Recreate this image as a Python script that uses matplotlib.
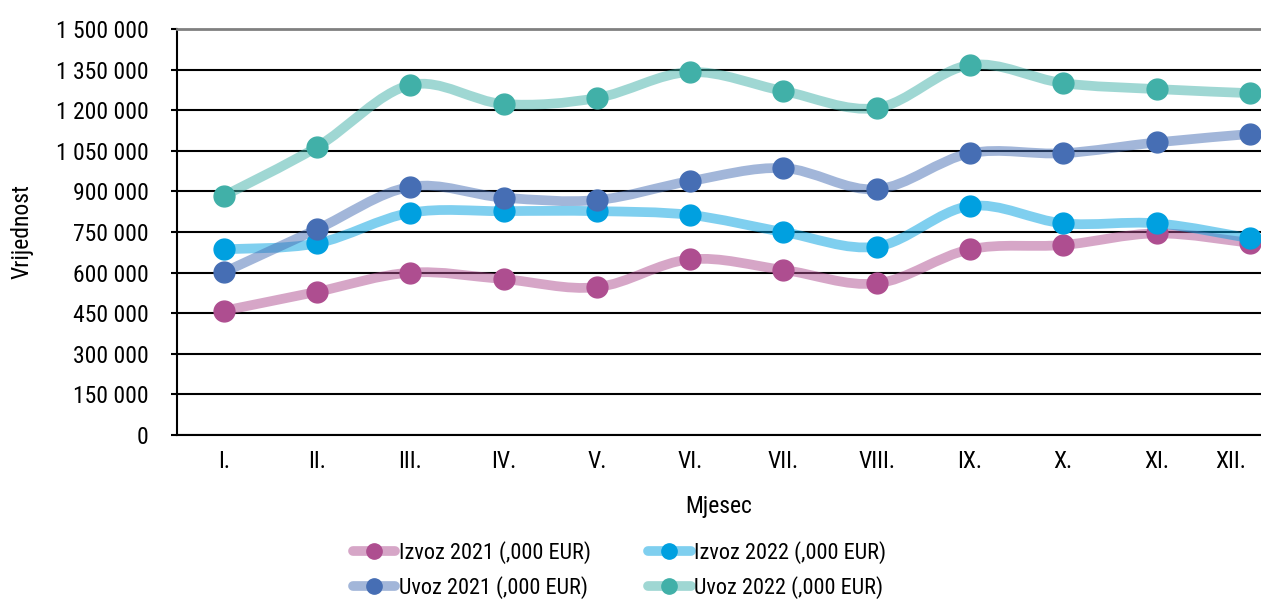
import matplotlib
matplotlib.use("Agg")
import matplotlib.pyplot as plt
from matplotlib.path import Path
from matplotlib.patches import PathPatch
from matplotlib.lines import Line2D
from matplotlib.transforms import ScaledTranslation
import numpy as np

plt.rcParams["font.family"] = ["Liberation Sans Narrow", "Roboto Condensed", "Liberation Sans", "DejaVu Sans"]
plt.rcParams["font.stretch"] = "condensed"

months = ["I.", "II.", "III.", "IV.", "V.", "VI.", "VII.", "VIII.", "IX.", "X.", "XI.", "XII."]
izvoz_2021 = [459000, 529000, 600000, 576000, 546000, 649000, 610000, 560000, 686000, 702000, 745000, 710000]
izvoz_2022 = [686000, 708000, 821000, 827000, 827000, 813000, 750000, 696000, 846000, 782000, 782000, 727000]
uvoz_2021 = [601000, 760000, 917000, 877000, 868000, 938000, 986000, 908000, 1041000, 1041000, 1081000, 1112000]
uvoz_2022 = [883000, 1064000, 1293000, 1223000, 1245000, 1341000, 1271000, 1208000, 1367000, 1300000, 1278000, 1263000]

labels = ["Izvoz 2021 (,000 EUR)", "Izvoz 2022 (,000 EUR)", "Uvoz 2021 (,000 EUR)", "Uvoz 2022 (,000 EUR)"]
colors = ["#AE4E90", "#00A0E0", "#466EB4", "#41B0A8"]
series = [izvoz_2021, izvoz_2022, uvoz_2021, uvoz_2022]

FS = 17


def smooth_path(x, y):
    # bezier segments like a spreadsheet "smoothed line"
    x = np.asarray(x, float)
    y = np.asarray(y, float)
    n = len(x)
    verts = [(x[0], y[0])]
    codes = [Path.MOVETO]
    for i in range(n - 1):
        p0 = np.array([x[max(i - 1, 0)], y[max(i - 1, 0)]])
        p1 = np.array([x[i], y[i]])
        p2 = np.array([x[i + 1], y[i + 1]])
        p3 = np.array([x[min(i + 2, n - 1)], y[min(i + 2, n - 1)]])
        c1 = p1 + (p2 - p0) / 6
        c2 = p2 - (p3 - p1) / 6
        verts += [tuple(c1), tuple(c2), tuple(p2)]
        codes += [Path.CURVE4] * 3
    return Path(verts, codes)


fig = plt.figure(figsize=(12.61, 6.03), dpi=100)
ax = fig.add_axes([177 / 1261, 168 / 603, 1 - 177 / 1261, 406 / 603])

xs = np.arange(len(months))
for vals, c in zip(series, colors):
    patch = PathPatch(smooth_path(xs, vals), facecolor="none", edgecolor=c,
                      alpha=0.5, lw=7, capstyle="round", joinstyle="round", zorder=3)
    ax.add_patch(patch)
    ax.plot(xs, vals, linestyle="none", marker="o", markersize=15, color=c, zorder=4)

ax.set_xlim(-0.5, 11.12)
ax.set_ylim(0, 1500000)
yt = np.arange(0, 1500001, 150000)
ax.set_yticks(yt)
ax.set_yticklabels([f"{v:,}".replace(",", " ") for v in yt], fontsize=FS)
ax.set_xticks(xs)
ax.set_xticklabels(months, fontsize=FS)
ax.tick_params(axis="x", length=0, pad=11)
ax.tick_params(axis="y", length=4.5, width=1.5, pad=16)

# last month label sits at the right edge, pull it inside
last = ax.get_xticklabels()[-1]
last.set_ha("right")
last.set_transform(last.get_transform() + ScaledTranslation(-4 / 100, 0, fig.dpi_scale_trans))

ax.grid(axis="y", color="black", lw=1.5, zorder=1)
ax.get_ygridlines()[-1].set_visible(False)
ax.set_axisbelow(True)
ax.spines["right"].set_visible(False)
ax.spines["top"].set_color("#808080")
ax.spines["top"].set_linewidth(2)
ax.spines["left"].set_linewidth(1.5)
ax.spines["bottom"].set_linewidth(1.5)

ax.set_ylabel("Vrijednost", fontsize=FS)
ax.yaxis.set_label_coords((22 - 177) / 1084, 0.5)
ax.yaxis.label.set_va("center")
ax.set_xlabel("Mjesec", fontsize=FS)
ax.xaxis.set_label_coords(0.5, -(507 - 435) / 406)
ax.xaxis.label.set_va("center")

leg_handles = []
for lab, c in zip(labels, colors):
    h_line = Line2D([], [], color=c, alpha=0.5, lw=7, solid_capstyle="round")
    h_mark = Line2D([], [], linestyle="none", marker="o", markersize=11, color=c)
    leg_handles.append((h_line, h_mark))
order = [0, 2, 1, 3]
fig.legend([leg_handles[i] for i in order], [labels[i] for i in order],
           loc="upper left", bbox_to_anchor=(353 / 1261, 62 / 603), ncol=2, frameon=False,
           fontsize=16, handlelength=1.9, handletextpad=0.15, columnspacing=2.6,
           labelspacing=0.55, borderaxespad=0, borderpad=0)

fig.savefig("out.png", dpi=100)
